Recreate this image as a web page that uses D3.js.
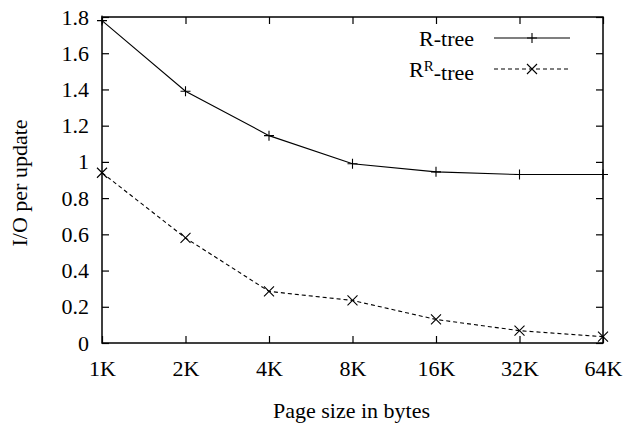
<!DOCTYPE html>
<html>
<head>
<meta charset="utf-8">
<script src="https://cdn.jsdelivr.net/npm/d3@7"></script>
<style>
  body { margin: 0; background: #fff; }
</style>
</head>
<body>
<svg width="630" height="428"></svg>
<script>
// page sizes and I/O values
var pageSizes = ["1K", "2K", "4K", "8K", "16K", "32K", "64K"];
var rtree = [1.78, 1.39, 1.145, 0.99, 0.945, 0.93, 0.93];
var rrtree = [0.94, 0.58, 0.285, 0.235, 0.13, 0.068, 0.035];
var yTicks = [0, 0.2, 0.4, 0.6, 0.8, 1, 1.2, 1.4, 1.6, 1.8];

var svg = d3.select("svg"),
    margin = { top: 17, right: 27, bottom: 85, left: 102 },
    width = +svg.attr("width") - margin.left - margin.right,
    height = +svg.attr("height") - margin.top - margin.bottom;

var fs = "22px", ff = "'Liberation Serif'";
var g = svg.append("g").attr("transform", "translate(" + margin.left + "," + margin.top + ")");

var x = d3.scalePoint().domain(pageSizes).range([0, width]),
    y = d3.scaleLinear().domain([0, 1.8]).range([height, 0]);

// axes, ticks pointing inwards, mirrored on top/right
var tickLen = 7;
g.append("g")
    .attr("transform", "translate(0," + height + ")")
    .call(d3.axisBottom(x).tickSizeInner(-tickLen).tickSizeOuter(0).tickPadding(17))
    .call(function(s) { s.select(".domain").remove(); });
g.append("g")
    .call(d3.axisLeft(y).tickValues(yTicks).tickFormat(d3.format("")).tickSizeInner(-tickLen).tickSizeOuter(0).tickPadding(13))
    .call(function(s) { s.select(".domain").remove(); });
g.append("g")
    .call(d3.axisTop(x).tickSizeInner(-tickLen).tickSizeOuter(0).tickFormat(""))
    .call(function(s) { s.select(".domain").remove(); });
g.append("g")
    .attr("transform", "translate(" + width + ",0)")
    .call(d3.axisRight(y).tickValues(yTicks).tickSizeInner(-tickLen).tickSizeOuter(0).tickFormat(""))
    .call(function(s) { s.select(".domain").remove(); });

g.selectAll(".tick text").style("font-family", ff).style("font-size", fs).attr("fill", "#000");
g.selectAll(".tick line").attr("stroke", "#000").attr("stroke-width", 1.2);

g.append("rect")
    .attr("width", width).attr("height", height)
    .attr("fill", "none").attr("stroke", "#000").attr("stroke-width", 1.5);

// axis labels
svg.append("text")
    .attr("x", margin.left + width / 2 - 1).attr("y", 418)
    .attr("text-anchor", "middle").style("font-family", ff).style("font-size", fs)
    .text("Page size in bytes");
svg.append("text")
    .attr("transform", "translate(27," + (margin.top + height / 2 + 3) + ") rotate(-90)")
    .attr("text-anchor", "middle").style("font-family", ff).style("font-size", fs)
    .text("I/O per update");

var line = d3.line()
    .x(function(d, i) { return x(pageSizes[i]); })
    .y(function(d) { return y(d); });

var ms = 5;
function plus(sel) {
    sel.append("path").attr("d", "M" + (-ms) + ",0H" + ms + "M0," + (-ms) + "V" + ms)
        .attr("stroke", "#000").attr("stroke-width", 1.1);
}
function cross(sel) {
    sel.append("path").attr("d", "M" + (-ms) + "," + (-ms) + "L" + ms + "," + ms + "M" + (-ms) + "," + ms + "L" + ms + "," + (-ms))
        .attr("stroke", "#000").attr("stroke-width", 1.1);
}

var series = [
    { name: "R-tree", values: rtree, dash: null, marker: plus },
    { name: "RR", values: rrtree, dash: "4,3", marker: cross }
];

series.forEach(function(s) {
    g.append("path")
        .attr("d", line(s.values))
        .attr("fill", "none").attr("stroke", "#000").attr("stroke-width", 1.1)
        .attr("stroke-dasharray", s.dash);
    g.selectAll(null).data(s.values).enter().append("g")
        .attr("transform", function(d, i) { return "translate(" + x(pageSizes[i]) + "," + y(d) + ")"; })
        .call(s.marker);
});

// legend
var legend = g.append("g");
series.forEach(function(s, i) {
    var ly = 21 + i * 31;
    var t = legend.append("text")
        .attr("x", 372).attr("y", ly).attr("dy", "0.35em")
        .attr("text-anchor", "end").style("font-family", ff).style("font-size", fs);
    if (i === 0) {
        t.text("R-tree");
    } else {
        t.append("tspan").text("R");
        t.append("tspan").attr("dy", "-0.4em").style("font-size", "15px").text("R");
        t.append("tspan").attr("dy", "0.4em").text("-tree");
    }
    legend.append("line")
        .attr("x1", 392).attr("x2", 468).attr("y1", ly).attr("y2", ly)
        .attr("stroke", "#000").attr("stroke-width", 1.1)
        .attr("stroke-dasharray", s.dash);
    legend.append("g").attr("transform", "translate(430," + ly + ")").call(s.marker);
});
</script>
</body>
</html>
